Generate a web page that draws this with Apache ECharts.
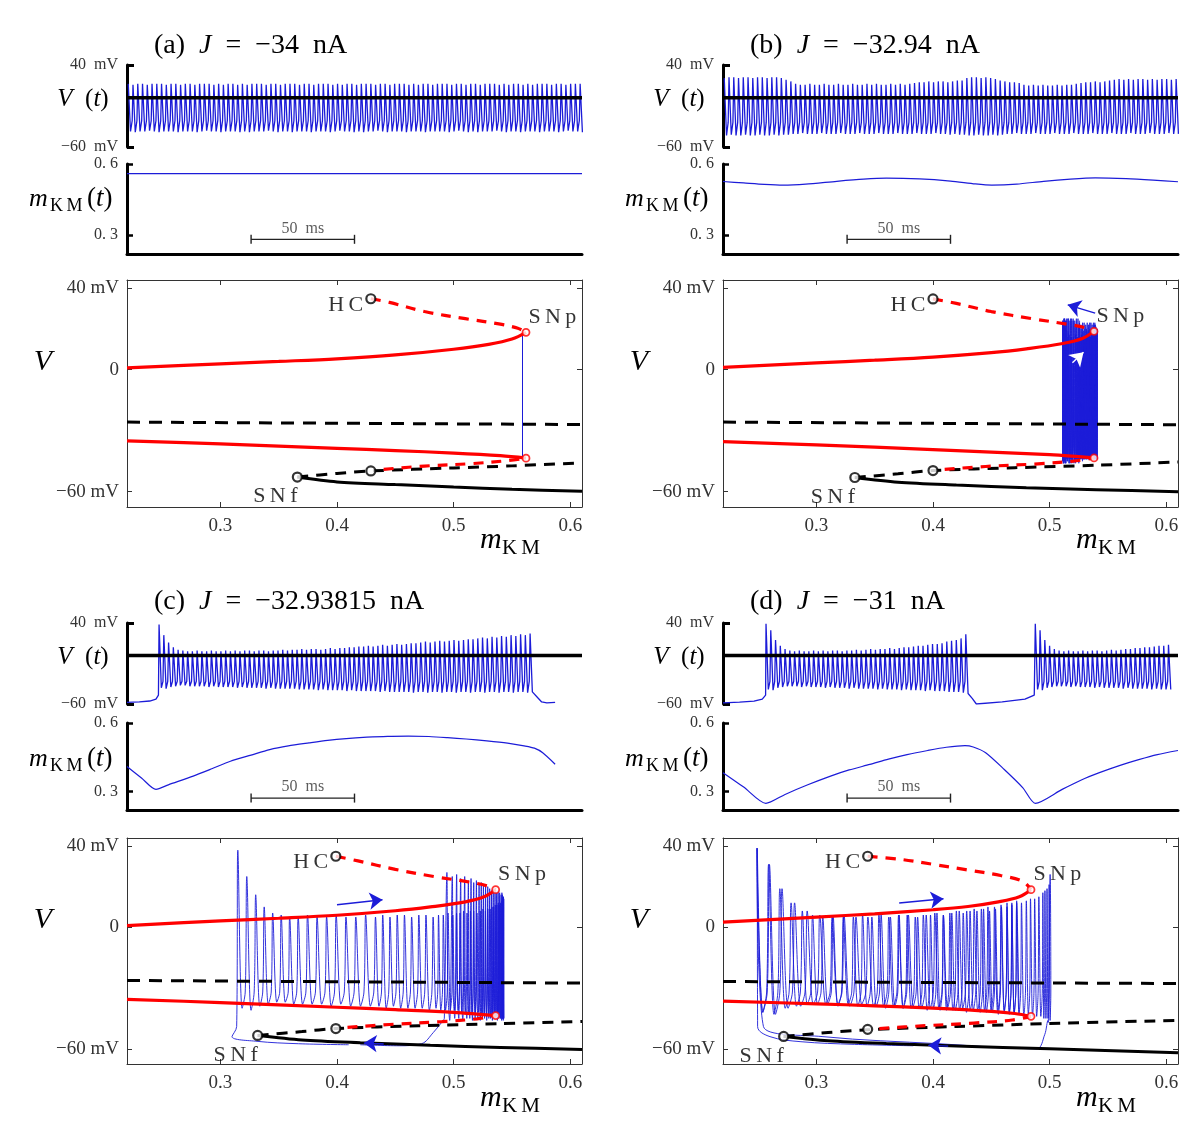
<!DOCTYPE html>
<html>
<head>
<meta charset="utf-8">
<title>Bursting neuron: V(t), m_KM(t) and phase planes</title>
<script src="https://cdn.jsdelivr.net/npm/echarts@6.0.0/dist/echarts.min.js"></script>
<style>
html,body{margin:0;padding:0;background:#fff;}
#chart{width:1200px;height:1136px;}
</style>
</head>
<body>
<div id="chart"></div>
<script>
// ================= DATA =================
const T_MAX = 220; // ms shown on each time axis

// spike times relative to the start of a spike train (ms)
const spikeOffsets = [0,2.3,4.6,6.9,9.2,11.5,13.8,16.1,18.4,20.7,
  23,25.3,27.6,29.9,32.2,34.5,36.8,39.1,41.4,43.7,
  46,48.3,50.6,52.9,55.2,57.5,59.8,62.1,64.4,66.7,
  69,71.3,73.6,75.9,78.2,80.5,82.8,85.1,87.4,89.7,
  92,94.3,96.6,98.9,101.2,103.5,105.8,108.1,110.4,112.7,
  115,117.3,119.6,121.9,124.2,126.5,128.8,131.1,133.4,135.7,
  138,140.3,142.6,144.9,147.2,149.5,151.8,154.1,156.4,158.7,
  161,163.3,165.6,167.9,170.2,172.5,174.8,177.1,179.4,181.7,
  184,186.3,188.6,190.9,193.2,195.5,197.8,200.1,202.4,204.7,
  207,209.3,211.6,213.9,216.2,218.5];
// spike shape: time from peak to trough, time from threshold to next peak (ms)
const spikeFall = 1.1;
const spikeRise = 0.4;

// ---- panel (a) J = -34 nA ----
const burstStartA = 0.6;
const vThrA = -28;
const peaksA = [17,16,17,17,16,17,17,17,16,17,17,16,
  17,17,16,17,17,17,16,17,16,17,17,16,
  17,16,17,17,17,16,17,17,16,17,17,17,
  16,17,17,16,17,17,17,16,17,16,17,17,
  16,17,17,17,16,17,17,16,17,17,17,16,
  17,16,17,17,16,17,17,17,16,17,17,16,
  17,17,16,17,17,17,16,17,16,17,17,16,
  17,16,17,17,17,16,17,17,16,17,17,17];
const troughsA = [-41,-42,-41,-41,-40,-41,-42,-41,-41,-41,-42,-41,
  -41,-41,-42,-41,-40,-41,-41,-42,-41,-41,-41,-42,
  -41,-42,-41,-41,-41,-40,-41,-42,-41,-41,-42,-41,
  -41,-41,-42,-41,-41,-41,-42,-41,-40,-41,-41,-42,
  -41,-42,-41,-41,-40,-41,-42,-41,-41,-41,-42,-41,
  -41,-41,-42,-41,-41,-41,-41,-42,-41,-40,-41,-42,
  -41,-42,-41,-41,-41,-40,-41,-42,-41,-41,-42,-41,
  -41,-41,-42,-41,-41,-41,-42,-41,-40,-41,-41,-42];
const mA = [[0,0.559],[110,0.559],[220,0.559]];

// ---- panel (b) J = -32.94 nA ----
const burstStartB = 0.6;
const vThrB = -30;
const peaksB = [24,25,25,24,25,25,24,25,25,24,25,25,24,
  22,20,
  17,16,16,17,16,16,17,16,16,17,16,16,17,16,16,17,16,17,16,16,17,16,17,16,17,
  18,19,19,20,19,20,20,19,20,21,21,
  24,25,25,24,25,24,23,
  21,20,19,19,18,
  16,15,16,15,16,15,15,16,15,16,16,17,
  18,19,19,20,19,20,21,
  22,23,22,23,22,23,23,22,23,22,23,23,22,23];
const troughsB = [-46,-45,-46,-46,-45,-46,-46,-45,-46,-46,-45,-46,-45,-45,
  -44,-44,-43,-44,-44,-44,-43,-44,-44,-44,-43,-44,-44,-44,-43,-44,-44,-44,-43,-44,-44,-44,-43,-44,-44,-44,-43,-44,-44,-44,-43,-44,-44,-45,-44,-45,-45,
  -46,-46,-45,-46,-46,-45,-46,-45,
  -44,-44,-43,-44,-44,-44,-43,-44,-44,-44,-43,-44,-44,-44,-43,-44,-44,-44,-43,-44,-44,-44,-43,-44,-44,-44,-43,-44,-44,-44,-43,-44,-44,-44,-43,-44,-44];
const mB = [[0,0.526],[10,0.52],[20,0.514],[29,0.511],[40,0.515],[55,0.527],[68,0.536],[79,0.54],[95,0.537],[110,0.528],[122,0.516],[130,0.511],[142,0.515],[155,0.527],[168,0.536],[180,0.541],[195,0.538],[208,0.532],[220,0.525]];

// ---- panel (c) J = -32.93815 nA ----
const burstStartC = 15.5;
const vThrC = -32;
const vQuietC0 = [[0,-58],[6,-57.5],[11,-56.3],[14,-54],[15.2,-49]];
const vQuietC1 = [[196.5,-46],[198.5,-52],[200.5,-57.5],[203,-58.5],[207,-58]];
const peaksC = [38,25,16,10,7,6,
  5,5,6,5,5,6,5,5,6,5,6,5,6,6,5,6,6,5,6,6,7,6,
  7,7,8,7,8,8,7,8,9,8,9,9,10,
  10,11,11,12,11,12,13,12,13,14,13,14,15,
  15,16,17,16,17,18,17,18,19,18,19,20,20,
  21,22,21,23,22,24,23,25,24,26,25,27];
const troughsC = [-40,-41,-39,-38,
  -37,-37,-38,-38,-38,-38,-39,-38,-39,-39,-39,-39,-40,-39,-40,-40,-40,-40,-41,-40,-41,-41,-41,-41,
  -41,-42,-42,-42,-42,-43,-42,-43,-43,-43,-43,-44,-43,-44,-44,-44,-44,-44,-45,-44,-45,-45,-45,
  -45,-45,-46,-45,-45,-46,-45,-45,-46,-45,-45,-46,-45,-45,-46,-45,-45,-46,-45,-45,-46,-45,-45,-46,-45,-45,-46,-45];
const mC = [[0,0.41],[7,0.36],[14,0.31],[20,0.33],[32,0.368],[41,0.40],[50,0.433],[60,0.46],[69,0.484],[78,0.5],[88,0.513],[97,0.524],[106,0.532],[116,0.538],[126,0.542],[136,0.543],[146,0.541],[155,0.536],[164,0.53],[174,0.522],[184,0.512],[192,0.5],[197,0.49],[201,0.47],[207,0.42]];

// ---- panel (d) J = -31 nA ----
const burstStartD1 = 20.8;
const burstStartD2 = 151;
const vThrD = -32;
const vQuietD0 = [[0,-58.5],[8,-57.8],[15,-56.5],[19,-54],[20.6,-49]];
const vQuietD1 = [[118.6,-46],[120.5,-53],[122.5,-60],[135,-57.5],[146,-54],[150.5,-49]];
const peaksD1 = [39,31,19,12,8,6,
  5,6,5,5,6,5,6,5,6,6,5,6,6,7,6,7,
  8,7,8,8,9,8,9,10,10,
  11,12,12,13,14,14,15,
  17,18,19,21,26];
const troughsD1 = [-42,-43,-40,-39,-38,-38,
  -38,-39,-38,-39,-39,-39,-40,-39,-40,-40,-40,-41,-40,-41,-41,-41,
  -41,-42,-41,-42,-42,-42,-43,-42,-43,
  -43,-43,-44,-43,-44,-44,-44,
  -45,-45,-45,-46,-47];
const peaksD2 = [39,31,19,12,8,6,
  5,6,5,5,6,5,6,6,5,6,
  7,6,7,8,8,9,9,10,10,11,12,12,13];
const troughsD2 = [-42,-43,-40,-39,-38,-38,
  -38,-39,-38,-39,-39,-39,-40,-39,-40,-40,-40,-40,-41,-40,-41,-41,-41,-41,-42,-41,-42,-42,-42];
const mD = [[0,0.383],[10,0.32],[20.7,0.249],[30,0.288],[41,0.33],[52,0.368],[61,0.395],[71,0.419],[80,0.442],[89,0.462],[99,0.48],[108,0.494],[117,0.501],[121,0.495],[127,0.47],[136,0.397],[145,0.317],[151,0.249],[164,0.31],[173,0.35],[182,0.383],[192,0.415],[201,0.44],[210,0.462],[220,0.48]];

// ---- V = 0 reference line in the V(t) panels ----
const vZeroLine = [[0,0],[220,0]];
// ---- 50 ms scale bars [t, m] ----
const scaleBarTop = [[60,0.282],[110,0.282]];
const scaleBarBottom = [[60,0.272],[110,0.272]];

// ---- bifurcation diagrams [m_KM, V] ----
// (a)
const stableUpperA   = [[0.22,0.8],[0.3,2.8],[0.35,4],[0.4,5.3],[0.45,7.2],[0.5,10],[0.53,12.4],[0.55,15],[0.562,18.3]];
const unstableUpperA = [[0.429,34.8],[0.445,33],[0.475,28.5],[0.51,25],[0.54,22.3],[0.555,20.3],[0.562,18.3]];
const stableLowerA   = [[0.22,-35],[0.3,-36.5],[0.4,-38.7],[0.45,-39.8],[0.5,-41],[0.54,-42.3],[0.562,-43.5]];
const unstableLowerA = [[0.44,-49],[0.475,-47.4],[0.515,-46.2],[0.545,-44.8],[0.562,-43.5]];
const saddleA        = [[0.366,-52.8],[0.4,-51],[0.429,-49.8],[0.5,-48.3],[0.55,-47.3],[0.61,-45.8]];
const nodeA          = [[0.366,-52.8],[0.4,-55.2],[0.45,-56.5],[0.5,-57.7],[0.55,-58.8],[0.61,-59.8]];
const midDashA       = [[0.22,-25.8],[0.61,-27]];
const hcA = [[0.429,34.8],[0.429,-49.8]], snfA = [0.366,-52.8], snpA = [[0.562,18.3],[0.562,-43.5]];
const arrowsA = [];
const whiteArrowsA = [];
// (b)
const stableUpperB   = [[0.22,1.1],[0.3,3.3],[0.35,4.6],[0.4,6.1],[0.45,8.3],[0.48,10.2],[0.51,12.7],[0.528,15.3],[0.538,18.8]];
const unstableUpperB = [[0.4,34.7],[0.42,32.5],[0.45,28.5],[0.485,25],[0.515,22.3],[0.531,20.5],[0.538,18.8]];
const stableLowerB   = [[0.22,-35.4],[0.3,-37],[0.4,-39.3],[0.45,-40.5],[0.5,-41.8],[0.525,-42.8],[0.538,-43.4]];
const unstableLowerB = [[0.41,-49],[0.445,-47.6],[0.49,-46.3],[0.52,-45],[0.538,-43.4]];
const saddleB        = [[0.333,-53],[0.37,-51.2],[0.4,-49.6],[0.47,-48.2],[0.54,-47],[0.61,-45.4]];
const nodeB          = [[0.333,-53],[0.37,-55.3],[0.42,-56.7],[0.48,-58],[0.54,-59],[0.61,-60]];
const midDashB       = [[0.22,-25.8],[0.61,-27.1]];
const hcB = [[0.4,34.7],[0.4,-49.6]], snfB = [0.333,-53], snpB = [[0.538,18.8],[0.538,-43.4]];
const arrowsB = [[[0.539,27.7],[0.5155,31.8]]];
const whiteArrowsB = [[[0.5195,3.3],[0.529,8.5]]];
// (c)
const stableUpperC   = [[0.22,0.8],[0.3,3.1],[0.35,4.4],[0.4,5.9],[0.45,8.1],[0.48,10],[0.51,12.5],[0.526,15],[0.536,18.5]];
const unstableUpperC = [[0.399,35],[0.418,32.7],[0.45,28.5],[0.483,25],[0.513,22.3],[0.529,20.3],[0.536,18.5]];
const stableLowerC   = [[0.22,-35.6],[0.3,-37.2],[0.4,-39.5],[0.45,-40.7],[0.5,-42],[0.523,-43],[0.536,-43.6]];
const unstableLowerC = [[0.409,-49.4],[0.445,-48],[0.49,-46.6],[0.52,-45.2],[0.536,-43.6]];
const saddleC        = [[0.332,-53.4],[0.37,-51.5],[0.399,-50],[0.47,-48.6],[0.54,-47.6],[0.61,-46.5]];
const nodeC          = [[0.332,-53.4],[0.37,-55.6],[0.42,-57],[0.48,-58.3],[0.54,-59.3],[0.61,-60.3]];
const midDashC       = [[0.22,-26.3],[0.61,-27.6]];
const hcC = [[0.399,35],[0.399,-50]], snfC = [0.332,-53.4], snpC = [[0.536,18.5],[0.536,-43.6]];
const arrowsC = [[[0.40,11.1],[0.439,13.5]],[[0.44,-57.6],[0.423,-57.2]]];
const whiteArrowsC = [];
// (d)
const stableUpperD   = [[0.22,2.5],[0.3,5],[0.35,6.6],[0.4,8.6],[0.43,10.2],[0.456,12.5],[0.474,15],[0.484,18.5]];
const unstableUpperD = [[0.344,35],[0.373,33.4],[0.4,31],[0.428,28.4],[0.458,25.5],[0.477,22.6],[0.484,18.5]];
const stableLowerD   = [[0.22,-36.5],[0.3,-37.8],[0.35,-38.8],[0.4,-39.9],[0.45,-41.5],[0.47,-42.6],[0.484,-44]];
const unstableLowerD = [[0.354,-50],[0.39,-48.7],[0.435,-47.3],[0.468,-45.8],[0.484,-44]];
const saddleD        = [[0.272,-53.9],[0.31,-52],[0.344,-50.6],[0.42,-49],[0.5,-47.5],[0.61,-46]];
const nodeD          = [[0.272,-53.9],[0.31,-56],[0.36,-57.4],[0.42,-58.6],[0.5,-60],[0.61,-62]];
const midDashD       = [[0.22,-26.8],[0.61,-27.8]];
const hcD = [[0.344,35],[0.344,-50.4]], snfD = [0.272,-53.9], snpD = [[0.484,18.5],[0.484,-44]];
const arrowsD = [[[0.371,11.9],[0.409,14]],[[0.413,-58.7],[0.396,-58.3]]];
const whiteArrowsD = [];

// tick labels
const vTimeTicks = [-60, 40];
const mTimeTicks = [0.3, 0.6];
const phaseMTicks = [0.3, 0.4, 0.5, 0.6];
const phaseVTicks = [-60, 0, 40];
const titlesJ = ['−34', '−32.94', '−32.93815', '−31'];
const panelLetters = ['(a)', '(b)', '(c)', '(d)'];

// ================= helpers =================
function buildTrain(start, peaks, troughs, thr) {
  const pts = [];
  const n = Math.min(peaks.length, troughs.length, spikeOffsets.length);
  for (let i = 0; i < n; i++) {
    const t = start + spikeOffsets[i];
    if (i > 0) pts.push([t - spikeRise, thr]);
    pts.push([t, peaks[i]]);
    pts.push([t + spikeFall, troughs[i]]);
  }
  return pts;
}
function mAt(samples, t) {
  if (t <= samples[0][0]) return samples[0][1];
  for (let i = 1; i < samples.length; i++) {
    if (t <= samples[i][0]) {
      const [t0, m0] = samples[i - 1], [t1, m1] = samples[i];
      return m0 + (m1 - m0) * (t - t0) / (t1 - t0);
    }
  }
  return samples[samples.length - 1][1];
}

const vTraceA = buildTrain(burstStartA, peaksA, troughsA, vThrA);
const vTraceB = buildTrain(burstStartB, peaksB, troughsB, vThrB);
const vTraceC = vQuietC0.concat(buildTrain(burstStartC, peaksC, troughsC, vThrC), vQuietC1);
const vTraceD = vQuietD0.concat(buildTrain(burstStartD1, peaksD1, troughsD1, vThrD), vQuietD1,
                                buildTrain(burstStartD2, peaksD2, troughsD2, vThrD));

const panels = [
  {col:0,row:0, v:vTraceA, m:mA, bar:scaleBarTop, su:stableUpperA, uu:unstableUpperA, sl:stableLowerA, ul:unstableLowerA, sad:saddleA, node:nodeA, mid:midDashA, hc:hcA, snf:snfA, snp:snpA, arrows:arrowsA, warrows:whiteArrowsA},
  {col:1,row:0, v:vTraceB, m:mB, bar:scaleBarTop, su:stableUpperB, uu:unstableUpperB, sl:stableLowerB, ul:unstableLowerB, sad:saddleB, node:nodeB, mid:midDashB, hc:hcB, snf:snfB, snp:snpB, arrows:arrowsB, warrows:whiteArrowsB},
  {col:0,row:1, v:vTraceC, m:mC, bar:scaleBarBottom, su:stableUpperC, uu:unstableUpperC, sl:stableLowerC, ul:unstableLowerC, sad:saddleC, node:nodeC, mid:midDashC, hc:hcC, snf:snfC, snp:snpC, arrows:arrowsC, warrows:whiteArrowsC},
  {col:1,row:1, v:vTraceD, m:mD, bar:scaleBarBottom, su:stableUpperD, uu:unstableUpperD, sl:stableLowerD, ul:unstableLowerD, sad:saddleD, node:nodeD, mid:midDashD, hc:hcD, snf:snfD, snp:snpD, arrows:arrowsD, warrows:whiteArrowsD}
];

// ================= layout / style =================
const FONT = 'Liberation Serif';
const BLUE = '#1c1cd8';
const RED = '#ff0000';
const colLeft = [127, 723];
const W = 455;
const rows = [
  {vTop:65, vH:82, mTop:164, mH:90, pTop:280, pH:227, title:46, vLab:99, mLab:199, pV:362, pM:540},
  {vTop:623, vH:81, mTop:723, mH:87, pTop:838, pH:226, title:602, vLab:657, mLab:759, pV:920, pM:1098}
];
const tickLabel = {fontFamily:FONT, color:'#333'};

const grids = [], xAxes = [], yAxes = [], series = [], graphics = [];

function vFmt(v) { return v === 0 ? '0' : (v > 0 ? v + ' mV' : '−' + Math.abs(v) + ' mV'); }
function vFmtT(v) { return v > 0 ? v + '  mV' : '−' + Math.abs(v) + '  mV'; }
const richSerif = size => ({n:{fontFamily:FONT, fontSize:size, fill:'#000', color:'#000'},
  i:{fontFamily:FONT, fontSize:size, fontStyle:'italic', fill:'#000', color:'#000'}});
function gtext(x, y, text, size, italic, align, rich) {
  const st = {text:text, fill:'#000', fontFamily:FONT, fontSize:size, fontStyle:italic ? 'italic' : 'normal',
      align:align || 'left', textAlign:align || 'left', verticalAlign:'middle', textVerticalAlign:'middle'};
  if (rich) st.rich = rich;
  return {type:'text', x:x, y:y, z:100, silent:true, style:st};
}

panels.forEach((P, p) => {
  const left = colLeft[P.col], R = rows[P.row];
  // ---- grids ----
  const gV = grids.length; grids.push({left:left, top:R.vTop, width:W, height:R.vH});
  const gM = grids.length; grids.push({left:left, top:R.mTop, width:W, height:R.mH});
  const gP = grids.length; grids.push({left:left, top:R.pTop, width:W, height:R.pH});

  // ---- V(t) axes ----
  const xV = xAxes.length;
  xAxes.push({gridIndex:gV, type:'value', min:0, max:T_MAX, show:false});
  const yV = yAxes.length;
  yAxes.push({gridIndex:gV, type:'value', min:-60, max:40,
    axisLine:{show:true, onZero:false, lineStyle:{color:'#000', width:3}},
    axisTick:{show:true, inside:true, length:7, customValues:vTimeTicks, lineStyle:{color:'#000', width:3}},
    axisLabel:{show:true, customValues:vTimeTicks, formatter:vFmtT, fontSize:16, margin:9, ...tickLabel},
    splitLine:{show:false}});

  // ---- m(t) axes ----
  const xM = xAxes.length;
  xAxes.push({gridIndex:gM, type:'value', min:0, max:T_MAX,
    axisLine:{show:true, onZero:false, lineStyle:{color:'#000', width:3}},
    axisTick:{show:false}, axisLabel:{show:false}, splitLine:{show:false}});
  const yM = yAxes.length;
  yAxes.push({gridIndex:gM, type:'value', min:0.22, max:0.6,
    axisLine:{show:true, onZero:false, lineStyle:{color:'#000', width:3}},
    axisTick:{show:true, inside:true, length:6, customValues:mTimeTicks, lineStyle:{color:'#000', width:2.5}},
    axisLabel:{show:true, customValues:mTimeTicks, formatter:v => v.toFixed(1).replace('.', '. '), fontSize:16, margin:9, ...tickLabel},
    splitLine:{show:false}});

  // ---- phase plane axes (box with ticks on all sides) ----
  const boxLine = {show:true, onZero:false, lineStyle:{color:'#333', width:1}};
  const xP = xAxes.length;
  xAxes.push({gridIndex:gP, type:'value', min:0.22, max:0.61, position:'bottom',
    axisLine:boxLine, axisTick:{show:true, inside:true, length:5, customValues:phaseMTicks, lineStyle:{color:'#333'}},
    axisLabel:{show:true, customValues:phaseMTicks, formatter:v => v.toFixed(1), fontSize:19, margin:10, ...tickLabel},
    splitLine:{show:false}});
  xAxes.push({gridIndex:gP, type:'value', min:0.22, max:0.61, position:'top',
    axisLine:boxLine, axisTick:{show:true, inside:true, length:5, customValues:phaseMTicks, lineStyle:{color:'#333'}},
    axisLabel:{show:false}, splitLine:{show:false}});
  const yP = yAxes.length;
  yAxes.push({gridIndex:gP, type:'value', min:-67.5, max:44, position:'left',
    axisLine:boxLine, axisTick:{show:true, inside:true, length:5, customValues:phaseVTicks, lineStyle:{color:'#333'}},
    axisLabel:{show:true, customValues:phaseVTicks, formatter:vFmt, fontSize:19, margin:8, ...tickLabel},
    splitLine:{show:false}});
  yAxes.push({gridIndex:gP, type:'value', min:-67.5, max:44, position:'right',
    axisLine:boxLine, axisTick:{show:true, inside:true, length:5, customValues:phaseVTicks, lineStyle:{color:'#333'}},
    axisLabel:{show:false}, splitLine:{show:false}});

  const base = {type:'line', symbol:'none', showSymbol:false, animation:false, silent:true};

  // ---- V(t) ----
  series.push({...base, xAxisIndex:xV, yAxisIndex:yV, data:P.v, z:2, lineStyle:{color:BLUE, width:1.3}});
  series.push({...base, xAxisIndex:xV, yAxisIndex:yV, data:vZeroLine, z:3, lineStyle:{color:'#000', width:3.5}});

  // ---- m(t) ----
  series.push({...base, xAxisIndex:xM, yAxisIndex:yM, data:P.m, smooth:0.25, z:2, lineStyle:{color:BLUE, width:1.2}});
  series.push({...base, xAxisIndex:xM, yAxisIndex:yM, data:P.bar, z:3, symbol:'rect', symbolSize:[1.4, 9], showSymbol:true,
    itemStyle:{color:'#222'}, lineStyle:{color:'#222', width:1.2}});
  series.push({type:'scatter', xAxisIndex:xM, yAxisIndex:yM, silent:true, animation:false, symbolSize:0, z:3,
    data:[[(P.bar[0][0] + P.bar[1][0]) / 2, P.bar[0][1]]],
    label:{show:true, position:'top', distance:3, formatter:'50  ms', fontFamily:FONT, fontSize:16, color:'#333'}});

  // ---- phase plane ----
  const phase = P.v.map(pt => [mAt(P.m, pt[0]), pt[1]]);
  series.push({...base, xAxisIndex:xP, yAxisIndex:yP, data:phase, smooth:0.35, z:1, lineStyle:{color:BLUE, width:0.9}});
  series.push({...base, xAxisIndex:xP, yAxisIndex:yP, data:P.mid, z:3, lineStyle:{color:'#000', width:3, type:[13, 9]}});
  series.push({...base, xAxisIndex:xP, yAxisIndex:yP, data:P.sad, smooth:0.3, z:3, lineStyle:{color:'#000', width:3, type:[11, 8]}});
  series.push({...base, xAxisIndex:xP, yAxisIndex:yP, data:P.node, smooth:0.3, z:4, lineStyle:{color:'#000', width:3}});
  series.push({...base, xAxisIndex:xP, yAxisIndex:yP, data:P.su, smooth:0.35, z:4, lineStyle:{color:RED, width:3.2}});
  series.push({...base, xAxisIndex:xP, yAxisIndex:yP, data:P.sl, smooth:0.35, z:4, lineStyle:{color:RED, width:3.2}});
  series.push({...base, xAxisIndex:xP, yAxisIndex:yP, data:P.uu, smooth:0.35, z:4, lineStyle:{color:RED, width:3.2, type:[10, 8]}});
  series.push({...base, xAxisIndex:xP, yAxisIndex:yP, data:P.ul, smooth:0.35, z:4, lineStyle:{color:RED, width:3.2, type:[10, 8]}});
  // arrows (shaft + auto-rotated head via markLine)
  [[P.arrows, BLUE], [P.warrows, '#ffffff']].forEach(([list, col]) => {
    if (!list.length) return;
    series.push({type:'line', xAxisIndex:xP, yAxisIndex:yP, data:list[0], symbol:'none', showSymbol:false,
      animation:false, silent:true, z:5, color:col, lineStyle:{width:0, opacity:0},
      markLine:{silent:true, animation:false, symbol:['none','arrow'], symbolSize:13, label:{show:false},
        itemStyle:{color:col}, lineStyle:{color:col, width:1.4, type:'solid', opacity:1},
        emphasis:{disabled:true},
        data:list.map(a => [{coord:a[0]}, {coord:a[1]}])}});
  });

  const lab = {show:true, fontFamily:FONT, fontSize:22, color:'#000'};
  series.push({type:'scatter', xAxisIndex:xP, yAxisIndex:yP, silent:true, animation:false, z:6,
    symbol:'circle', symbolSize:9, itemStyle:{color:'#fff', borderColor:'#000', borderWidth:2.2},
    data:[
      {value:P.hc[0], label:{...lab, formatter:'H\u2009C', position:'left', distance:2, offset:[0, 6]}},
      {value:P.hc[1]},
      {value:P.snf, label:{...lab, formatter:'S\u2009N\u2009f', position:'bottom', distance:4, offset:[-22, -1]}}
    ]});
  series.push({type:'scatter', xAxisIndex:xP, yAxisIndex:yP, silent:true, animation:false, z:6,
    symbol:'circle', symbolSize:7, itemStyle:{color:'#fff', borderColor:RED, borderWidth:1.8},
    data:[
      {value:P.snp[0], label:{...lab, formatter:'S\u2009N\u2009p', position:'right', distance:5, offset:[-7, -15]}},
      {value:P.snp[1]}
    ]});

  // ---- texts ----
  graphics.push(gtext(left + 27, R.title, '{n|' + panelLetters[p] + '  }{i|J}{n|  =  ' + titlesJ[p] + '  nA}', 28, false, 'left', richSerif(28)));
  graphics.push(gtext(left - 44, R.vLab, '{i|V}{n|  (}{i|t}{n|)}', 25, false, 'center', richSerif(25)));
  graphics.push(gtext(left - 98, R.mLab, 'm', 26, true));
  graphics.push(gtext(left - 77, R.mLab + 7, 'K\u2009M', 18, false));
  graphics.push(gtext(left - 40, R.mLab, '{n|(}{i|t}{n|)}', 27, false, 'left', richSerif(27)));
  graphics.push(gtext(left - 84, R.pV, 'V', 30, true, 'center'));
  graphics.push(gtext(left + 353, R.pM, 'm', 30, true));
  graphics.push(gtext(left + 375, R.pM + 8, 'K\u2009M', 21, false));
});

const chart = echarts.init(document.getElementById('chart'), null, {renderer:'canvas'});
chart.setOption({
  animation:false,
  backgroundColor:'#fff',
  textStyle:{fontFamily:FONT},
  grid:grids,
  xAxis:xAxes,
  yAxis:yAxes,
  series:series,
  graphic:{elements:graphics}
});
</script>
</body>
</html>
